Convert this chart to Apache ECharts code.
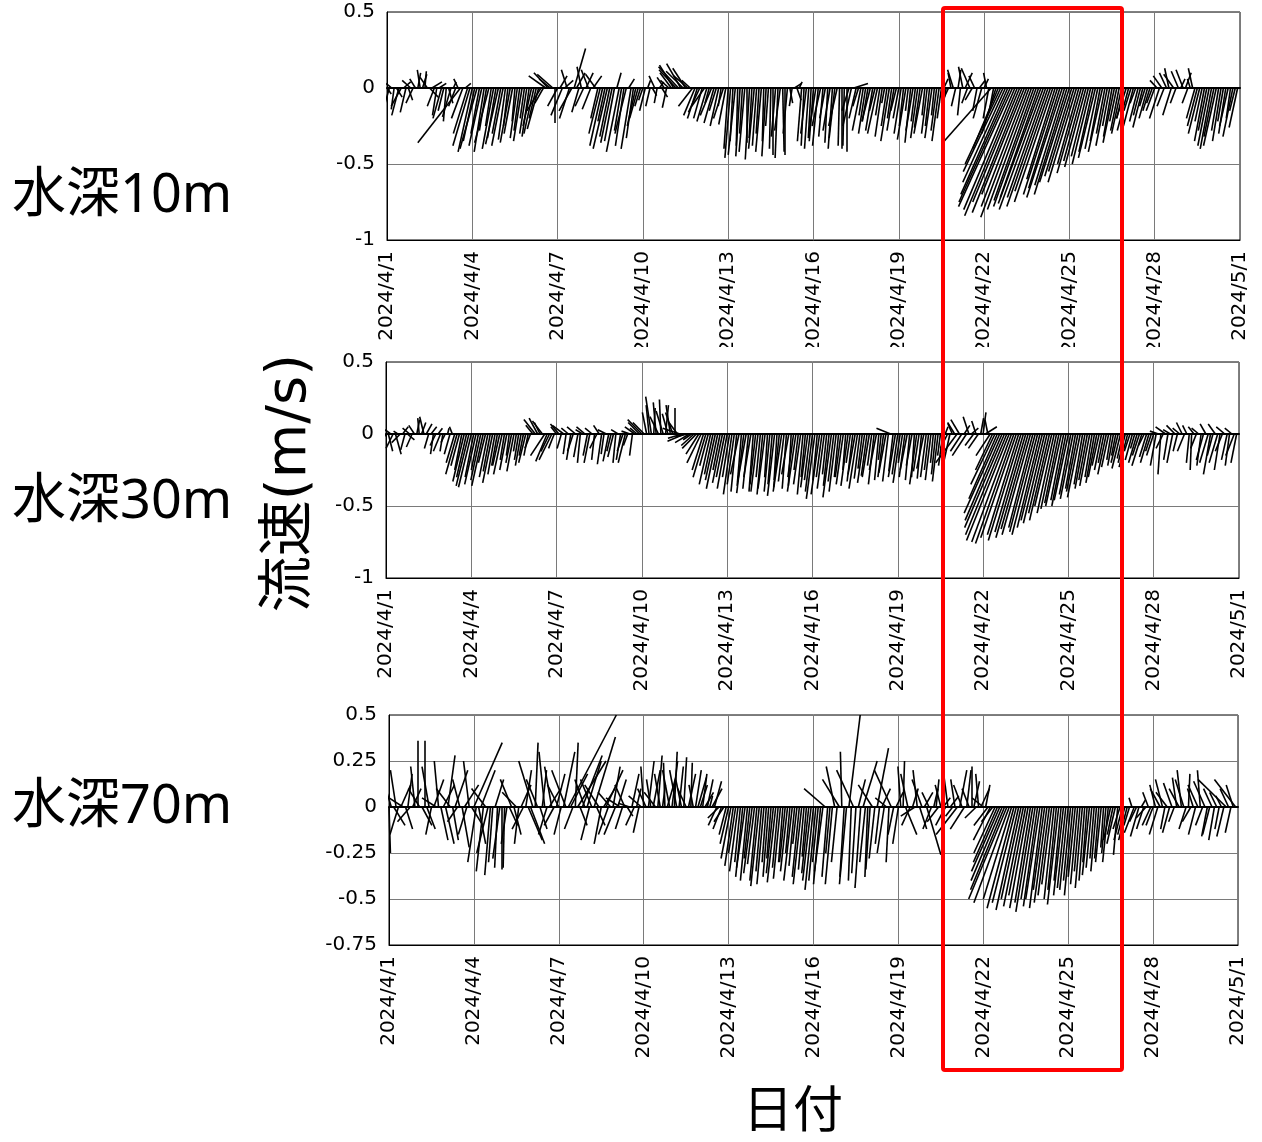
<!DOCTYPE html>
<html>
<head>
<meta charset="utf-8">
<script src="https://cdn.jsdelivr.net/npm/echarts@6/dist/echarts.min.js"></script>
<style>
  html, body { margin: 0; padding: 0; background: #fff; }
  #main { width: 1262px; height: 1142px; }
</style>
</head>
<body>
<div id="main"></div>
<script>
// tick labels on the date axis (every 3 days, 4/1 .. 5/1)
var dateLabels = ['2024/4/1', '2024/4/4', '2024/4/7', '2024/4/10', '2024/4/13', '2024/4/16',
  '2024/4/19', '2024/4/22', '2024/4/25', '2024/4/28', '2024/5/1'];
var stepDays = 2 / 24;   // one stick every 2 hours from 2024/4/1 00:00
var daysPerMs = 5;       // horizontal length of 1 m/s on the date axis

/* 10m : east (u) and north (v) components, m/s, one row per day */
var u10 = [
  0.03, -0.03, -0.04, -0.02, 0.04, -0.05, -0.07, 0.05, -0.04, 0.03, -0.06, -0.05,
  -0.04, 0.02, -0.02, 0.03, 0.01, -0.05, 0.06, 0.07, -0.05, -0.03, 0.05, -0.06,
  -0.04, -0.02, 0.03, -0.06, 0.02, -0.05, -0.03, -0.3, -0.08, 0.04, -0.1, -0.12,
  -0.1, -0.08, -0.12, -0.06, -0.09, -0.07, -0.05, -0.1, -0.04, -0.08, -0.06, -0.09,
  -0.06, -0.08, -0.05, -0.03, -0.07, -0.06, -0.02, -0.05, -0.04, -0.06, -0.03, -0.05,
  -0.05, -0.06, -0.07, -0.05, -0.08, -0.1, -0.06, -0.12, -0.1, -0.08, -0.11, 0,
  -0.07, 0.05, -0.08, 0.06, -0.04, -0.07, -0.09, 0.08, 0.06, -0.05, -0.03, -0.06,
  0.05, -0.05, -0.06, 0.06, -0.07, -0.05, -0.08, -0.09, -0.05, -0.1, -0.07, -0.08,
  -0.07, 0.03, -0.09, -0.05, -0.06, -0.08, 0.04, -0.07, -0.05, -0.06, -0.06, -0.04,
  -0.03, -0.04, 0.02, -0.03, 0.03, -0.04, -0.02, 0.03, 0.04, -0.05, -0.03, -0.06,
  -0.08, -0.1, -0.12, -0.14, -0.1, -0.12, -0.09, -0.1, -0.06, -0.1, -0.08, -0.07,
  -0.08, -0.06, -0.09, -0.07, -0.03, -0.08, -0.07, -0.05, -0.06, -0.02, -0.07, -0.05,
  -0.03, -0.04, -0.02, -0.05, -0.01, -0.03, -0.02, -0.04, 0, -0.03, -0.02, -0.04,
  -0.03, -0.02, -0.04, -0.01, -0.03, -0.02, -0.01, 0, -0.03, -0.02, -0.04, 0.01,
  0, -0.03, 0.02, -0.02, 0.05, 0.03, 0.02, -0.03, -0.02, -0.04, -0.03, -0.02,
  -0.03, -0.05, -0.04, -0.06, -0.03, -0.04, -0.02, -0.05, -0.03, -0.04, -0.06, -0.01,
  0, -0.01, 0, -0.05, -0.06, 0.1, -0.05, -0.04, -0.06, -0.03, -0.05, -0.04,
  -0.06, -0.05, -0.04, -0.07, -0.03, -0.05, -0.02, -0.04, -0.06, -0.03, -0.05, -0.04,
  -0.04, -0.05, -0.03, -0.06, -0.02, -0.04, -0.05, -0.03, -0.05, -0.04, -0.06, -0.02,
  -0.04, -0.03, -0.05, -0.02, -0.04, -0.05, -0.03, 0.03, -0.03, -0.05, -0.02, -0.04,
  -0.03, 0.02, -0.02, -0.03, 0.05, -0.04, -0.06, -0.05, -0.04, -0.03, 0.04, -0.06,
  0.03, -0.02, -0.04, -0.35, -0.03, -0.1, -0.18, -0.25, -0.28, -0.3, -0.33, -0.36,
  -0.38, -0.36, -0.37, -0.33, -0.35, -0.3, -0.32, -0.34, -0.31, -0.28, -0.3, -0.27,
  -0.3, -0.31, -0.27, -0.29, -0.25, -0.27, -0.2, -0.24, -0.22, -0.25, -0.21, -0.23,
  -0.21, -0.19, -0.18, -0.2, -0.15, -0.17, -0.14, -0.15, -0.12, -0.13, -0.1, -0.12,
  -0.09, -0.07, -0.1, -0.06, -0.08, -0.05, -0.06, -0.08, -0.05, -0.06, -0.07, -0.05,
  -0.07, -0.08, -0.05, -0.07, -0.04, -0.06, -0.05, -0.07, -0.04, -0.06, -0.05, -0.04,
  -0.06, -0.05, -0.07, -0.06, -0.05, -0.05, -0.03, -0.06, -0.07, -0.04, -0.05, 0.03,
  -0.05, 0.04, -0.04, -0.02, -0.03, -0.06, -0.07, -0.08, -0.05, -0.07, -0.06, -0.08,
  -0.08, -0.07, -0.09, -0.05, -0.06, -0.04, -0.05, -0.06, -0.03, -0.07, -0.04, -0.06
];
var v10 = [
  -0.04, -0.1, 0.03, -0.14, -0.06, -0.18, -0.12, 0.04, -0.16, -0.08, 0.05, -0.1,
  0.06, 0.1, 0.12, 0.09, 0.11, 0.07, -0.06, 0.04, -0.12, -0.18, 0.03, -0.2,
  -0.15, -0.22, -0.1, -0.19, 0.04, -0.12, 0.06, -0.36, -0.2, 0.03, -0.3, -0.38,
  -0.42, -0.35, -0.4, -0.3, -0.38, -0.42, -0.28, -0.36, -0.25, -0.4, -0.33, -0.37,
  -0.3, -0.38, -0.34, -0.25, -0.36, -0.3, -0.22, -0.33, -0.28, -0.35, -0.2, -0.3,
  -0.32, -0.25, -0.3, -0.2, -0.27, -0.15, -0.1, 0.08, 0.1, 0.06, 0.09, -0.23,
  -0.12, 0.08, -0.18, 0.05, 0.12, -0.2, -0.15, 0.26, 0.1, -0.16, 0.14, -0.12,
  0.1, 0.12, -0.14, 0.08, 0.09, -0.2, -0.3, -0.38, -0.22, -0.4, -0.32, -0.36,
  -0.35, 0.1, -0.42, -0.28, -0.38, -0.3, 0.06, -0.4, -0.33, -0.25, -0.2, -0.12,
  -0.08, -0.15, 0.05, -0.12, -0.05, 0.08, -0.1, 0.04, -0.06, 0.07, -0.13, 0.05,
  0.1, 0.15, 0.12, 0.14, 0.16, 0.11, 0.13, 0.08, 0.05, -0.12, -0.18, -0.2,
  -0.16, -0.2, -0.12, -0.22, -0.1, -0.18, -0.23, -0.15, -0.25, -0.12, -0.2, -0.24,
  -0.4, -0.46, -0.35, -0.44, -0.38, -0.45, -0.3, -0.42, -0.36, -0.47, -0.33, -0.4,
  -0.38, -0.3, -0.42, -0.35, -0.45, -0.25, -0.4, -0.44, -0.32, -0.46, -0.28, -0.42,
  -0.44, -0.3, -0.1, -0.12, 0.03, -0.08, 0.04, -0.35, -0.38, -0.3, -0.4, -0.33,
  -0.35, -0.3, -0.38, -0.25, -0.32, -0.2, -0.36, -0.28, -0.4, -0.33, -0.25, -0.38,
  -0.4, -0.38, -0.42, -0.15, -0.25, 0.03, -0.2, -0.12, -0.28, -0.18, -0.3, -0.22,
  -0.22, -0.28, -0.15, -0.3, -0.18, -0.32, -0.1, -0.25, -0.35, -0.2, -0.28, -0.15,
  -0.2, -0.3, -0.25, -0.34, -0.15, -0.36, -0.28, -0.22, -0.33, -0.26, -0.3, -0.18,
  -0.3, -0.25, -0.33, -0.18, -0.28, -0.35, -0.2, 0.06, -0.15, -0.1, 0.1, 0.12,
  -0.12, 0.12, -0.18, 0.14, 0.1, -0.1, 0.13, -0.08, 0.08, -0.15, 0.05, -0.2,
  0.06, 0.1, -0.2, -0.37, -0.15, -0.3, -0.4, -0.5, -0.55, -0.62, -0.7, -0.75,
  -0.78, -0.8, -0.84, -0.75, -0.82, -0.7, -0.78, -0.85, -0.8, -0.74, -0.78, -0.72,
  -0.76, -0.8, -0.72, -0.78, -0.68, -0.75, -0.6, -0.7, -0.66, -0.72, -0.64, -0.7,
  -0.62, -0.58, -0.55, -0.62, -0.5, -0.56, -0.48, -0.52, -0.45, -0.5, -0.42, -0.46,
  -0.4, -0.35, -0.42, -0.3, -0.38, -0.25, -0.32, -0.36, -0.22, -0.28, -0.3, -0.2,
  -0.2, -0.28, -0.15, -0.25, -0.1, -0.22, -0.18, -0.26, -0.12, -0.2, -0.15, -0.1,
  -0.15, 0.05, -0.2, 0.08, -0.12, 0.1, 0.13, -0.18, 0.09, -0.1, 0.11, 0.06,
  0.12, 0.1, -0.1, 0.06, 0.13, -0.2, -0.25, -0.3, -0.22, -0.35, -0.28, -0.38,
  -0.4, -0.32, -0.38, -0.28, -0.35, -0.22, -0.3, -0.25, -0.2, -0.32, -0.15, -0.26
];

/* 30m */
var u30 = [
  -0.05, 0.03, -0.04, -0.05, 0.04, -0.03, -0.06, 0.04, -0.03, 0.05, -0.05, -0.04,
  -0.04, 0.02, -0.01, 0.03, -0.03, 0.04, -0.03, 0.04, -0.02, -0.04, 0.03, -0.05,
  -0.02, -0.03, 0.01, -0.04, -0.02, -0.06, -0.08, -0.06, -0.05, -0.08, -0.07, -0.09,
  -0.09, -0.06, -0.08, -0.05, -0.07, -0.08, -0.05, -0.06, -0.05, -0.07, -0.05, -0.04,
  -0.05, -0.06, -0.03, -0.05, -0.02, -0.04, -0.05, -0.02, -0.03, -0.04, -0.03, -0.05,
  -0.03, -0.04, -0.05, -0.08, -0.06, -0.04, -0.07, -0.1, -0.08, -0.06, -0.09, -0.04,
  -0.04, -0.06, -0.03, -0.08, -0.02, -0.05, -0.03, -0.04, -0.06, -0.03, -0.02, -0.05,
  -0.06, -0.03, -0.04, -0.05, -0.02, -0.05, -0.04, -0.03, -0.02, -0.06, -0.04, -0.03,
  -0.04, -0.02, -0.05, -0.03, -0.04, -0.05, -0.03, -0.06, -0.02, -0.07, -0.05, -0.08,
  -0.1, -0.08, -0.03, -0.02, -0.04, 0.01, -0.02, -0.06, -0.01, -0.05, 0.02, -0.04,
  -0.03, -0.05, 0, -0.06, -0.12, -0.1, -0.12, -0.08, -0.1, -0.06, -0.09, -0.1,
  -0.09, -0.1, -0.08, -0.09, -0.06, -0.08, -0.06, -0.07, -0.08, -0.05, -0.07, -0.06,
  -0.07, -0.05, -0.06, -0.05, -0.04, -0.06, -0.03, -0.05, -0.06, -0.04, -0.05, -0.03,
  -0.04, -0.05, -0.03, -0.04, -0.05, -0.02, -0.04, -0.03, -0.05, -0.02, -0.04, -0.06,
  -0.04, -0.03, -0.05, -0.02, -0.04, -0.06, -0.03, -0.05, -0.04, -0.03, -0.05, -0.04,
  -0.05, -0.06, -0.03, -0.06, -0.04, -0.05, -0.03, -0.04, -0.06, -0.04, -0.05, -0.03,
  -0.04, -0.05, -0.02, -0.05, -0.03, -0.04, -0.05, -0.06, -0.04, -0.03, -0.05, -0.04,
  -0.05, -0.03, -0.04, -0.05, -0.03, -0.02, -0.04, -0.05, -0.04, -0.1, -0.03, -0.05,
  -0.04, -0.05, -0.03, -0.04, -0.05, -0.03, -0.04, -0.02, -0.05, -0.04, -0.03, -0.05,
  -0.04, -0.03, -0.04, -0.02, -0.03, -0.04, -0.02, -0.03, 0.02, -0.05, -0.04, -0.03,
  -0.05, -0.15, -0.06, -0.08, 0.04, -0.1, -0.04, 0.05, -0.06, -0.03, -0.07, 0.02,
  0.02, 0.08, -0.02, -0.1, -0.12, -0.17, -0.2, -0.25, -0.26, -0.28, -0.29, -0.3,
  -0.28, -0.27, -0.25, -0.22, -0.23, -0.2, -0.21, -0.19, -0.2, -0.17, -0.18, -0.18,
  -0.16, -0.15, -0.15, -0.13, -0.14, -0.12, -0.12, -0.11, -0.1, -0.11, -0.09, -0.1,
  -0.1, -0.08, -0.09, -0.07, -0.08, -0.09, -0.06, -0.07, -0.06, -0.07, -0.05, -0.06,
  -0.06, -0.05, -0.05, -0.04, -0.06, -0.05, -0.03, -0.04, -0.03, -0.05, -0.06, -0.04,
  -0.05, -0.06, -0.04, -0.05, -0.03, -0.06, -0.05, -0.07, -0.04, -0.05, -0.06, -0.04,
  -0.05, -0.04, -0.06, -0.02, -0.05, -0.07, -0.03, -0.05, -0.04, -0.06, -0.03, -0.05,
  -0.04, -0.05, -0.03, -0.02, -0.01, -0.04, -0.04, -0.05, -0.03, -0.05, -0.04, -0.06,
  -0.05, -0.04, -0.05, -0.06, -0.04, -0.05, -0.06, -0.04, -0.03, -0.05, -0.06, -0.04
];
var v30 = [
  -0.08, -0.12, 0.03, -0.1, -0.14, 0.02, -0.06, 0.05, -0.11, -0.04, 0.04, -0.09,
  0.06, 0.1, 0.11, 0.08, 0.12, 0.07, -0.1, 0.05, -0.14, -0.08, 0.04, -0.12,
  -0.12, -0.06, 0.04, -0.14, 0.05, -0.2, -0.28, -0.22, -0.25, -0.33, -0.3, -0.36,
  -0.37, -0.3, -0.35, -0.25, -0.32, -0.36, -0.2, -0.3, -0.26, -0.34, -0.28, -0.22,
  -0.22, -0.28, -0.18, -0.25, -0.15, -0.2, -0.26, -0.12, -0.18, -0.22, -0.15, -0.2,
  -0.15, -0.1, 0.06, 0.1, 0.11, 0.08, 0.09, -0.15, -0.19, -0.12, -0.18, -0.1,
  0.05, 0.07, -0.1, 0.06, -0.14, 0.04, -0.18, -0.12, 0.05, -0.16, -0.2, 0.03,
  0.05, -0.15, -0.2, 0.04, -0.18, -0.1, 0.06, -0.21, -0.14, 0.03, -0.19, -0.12,
  -0.16, -0.2, 0.03, -0.18, -0.12, -0.2, -0.08, 0.02, -0.15, 0.05, 0.04, 0.08,
  0.1, 0.08, 0.15, 0.2, 0.26, 0.18, 0.22, 0.12, 0.24, 0.16, 0.2, 0.14,
  0.2, 0.15, 0.18, 0.08, 0.04, -0.03, -0.05, -0.02, -0.06, -0.04, -0.08, -0.1,
  -0.14, -0.2, -0.25, -0.3, -0.22, -0.35, -0.28, -0.32, -0.38, -0.25, -0.34, -0.3,
  -0.38, -0.3, -0.42, -0.35, -0.4, -0.28, -0.36, -0.41, -0.33, -0.38, -0.3, -0.4,
  -0.35, -0.4, -0.3, -0.42, -0.38, -0.3, -0.4, -0.35, -0.43, -0.32, -0.37, -0.4,
  -0.33, -0.38, -0.28, -0.36, -0.3, -0.4, -0.25, -0.35, -0.42, -0.3, -0.37, -0.32,
  -0.4, -0.45, -0.32, -0.42, -0.3, -0.38, -0.28, -0.36, -0.44, -0.33, -0.4, -0.3,
  -0.3, -0.35, -0.25, -0.36, -0.2, -0.33, -0.28, -0.38, -0.31, -0.24, -0.34, -0.29,
  -0.3, -0.22, -0.35, -0.25, -0.32, -0.18, -0.3, -0.27, -0.33, 0.04, -0.26, -0.3,
  -0.28, -0.34, -0.2, -0.3, -0.25, -0.32, -0.22, -0.3, -0.35, -0.26, -0.31, -0.24,
  -0.3, -0.25, -0.32, -0.2, -0.28, -0.33, -0.15, -0.22, 0.05, -0.1, -0.18, 0.07,
  0.08, -0.2, 0.1, -0.12, 0.06, -0.15, 0.12, 0.04, -0.08, 0.09, -0.1, 0.11,
  0.15, 0.05, 0.1, -0.15, -0.25, -0.35, -0.45, -0.55, -0.6, -0.65, -0.7, -0.74,
  -0.75, -0.76, -0.72, -0.7, -0.74, -0.68, -0.72, -0.66, -0.7, -0.65, -0.68, -0.7,
  -0.65, -0.6, -0.62, -0.55, -0.6, -0.5, -0.55, -0.52, -0.48, -0.5, -0.46, -0.5,
  -0.46, -0.42, -0.45, -0.38, -0.4, -0.44, -0.35, -0.38, -0.32, -0.36, -0.3, -0.34,
  -0.3, -0.22, -0.25, -0.2, -0.28, -0.23, -0.18, -0.22, -0.15, -0.2, -0.24, -0.17,
  -0.2, -0.23, -0.12, -0.18, -0.1, -0.2, -0.15, -0.22, -0.08, -0.16, -0.2, -0.12,
  -0.15, -0.22, 0.02, -0.28, -0.1, 0.05, -0.18, 0.03, -0.2, 0.06, -0.12, 0.04,
  0.08, -0.12, 0.06, -0.2, -0.25, 0.05, -0.1, 0.04, -0.22, -0.18, 0.07, -0.2,
  -0.28, -0.15, 0.07, -0.2, -0.25, -0.12, 0.05, -0.18, -0.22, 0.04, -0.15, -0.2
];

/* 70m */
var u70 = [
  0.01, -0.06, 0.08, -0.04, -0.06, 0.07, -0.1, 0.05, 0.03, -0.09, 0.06, -0.03,
  0, -0.08, 0.07, 0, 0.06, -0.05, -0.04, 0.07, -0.1, -0.03, 0.05, 0.08,
  0.06, 0.05, -0.1, 0.04, 0.09, -0.07, -0.05, 0.05, 0.1, -0.06, -0.04, 0.08,
  0.2, -0.06, 0.05, 0.1, -0.05, -0.1, -0.08, -0.04, -0.03, 0.06, -0.02, -0.05,
  0, -0.01, -0.04, 0.06, -0.08, 0.05, -0.1, -0.03, 0.07, -0.08, 0.04, 0.1,
  0.1, -0.1, 0.02, -0.08, 0.05, 0.03, -0.04, -0.06, 0.08, -0.05, -0.07, 0.06,
  -0.08, -0.05, 0.08, -0.1, 0.34, 0.12, -0.06, 0.02, 0.2, 0.05, 0.14, -0.07,
  0.1, -0.06, -0.08, 0.15, 0.06, -0.1, -0.05, 0.08, 0.12, -0.07, -0.09, 0.05,
  -0.08, 0.06, -0.1, -0.05, -0.07, 0.04, -0.08, 0.05, -0.06, 0.03, -0.04, -0.09,
  -0.02, -0.06, 0.04, -0.03, 0.05, -0.08, 0.03, -0.04, 0.02, -0.01, 0.06, -0.05,
  0.04, 0.02, -0.05, 0.03, -0.04, 0.02, -0.06, 0.05, 0.01, -0.03, 0.04, 0.06,
  0.05, 0.03, 0.06, 0.04, 0.02, 0.07, 0.05, -0.06, -0.08, -0.06, -0.07, -0.05,
  -0.06, -0.07, -0.06, -0.05, -0.06, -0.04, -0.05, -0.06, -0.05, -0.04, -0.06, -0.05,
  -0.05, -0.06, -0.04, -0.05, -0.03, -0.04, -0.03, -0.05, -0.06, -0.04, -0.05, -0.03,
  -0.04, -0.05, -0.03, -0.06, -0.04, -0.03, -0.05, -0.06, -0.04, -0.03, -0.05, -0.06,
  -0.06, -0.05, -0.04, -0.05, -0.06, -0.15, -0.04, -0.03, -0.05, -0.06, -0.04, -0.12,
  -0.01, -0.03, -0.05, 0.08, -0.02, -0.12, -0.03, 0.05, -0.04, 0.1, -0.04, -0.02,
  -0.03, -0.1, -0.04, 0.08, -0.03, 0.06, -0.05, -0.08, -0.02, -0.12, -0.04, 0.05,
  -0.04, -0.02, 0.01, 0.08, -0.05, -0.06, 0.04, -0.1, -0.03, 0.05, -0.07, 0.06,
  0.1, -0.05, -0.06, 0.03, 0.02, -0.08, -0.04, 0.05, -0.07, -0.03, 0.06, -0.05,
  -0.03, -0.15, 0.05, -0.06, -0.1, 0.03, -0.05, 0, 0.04, -0.08, -0.02, 0.06,
  -0.08, 0.03, -0.1, -0.12, -0.08, -0.15, -0.17, -0.2, -0.22, -0.24, -0.27, -0.25,
  -0.2, -0.19, -0.17, -0.16, -0.14, -0.14, -0.12, -0.13, -0.11, -0.12, -0.1, -0.1,
  -0.1, -0.09, -0.08, -0.09, -0.08, -0.07, -0.07, -0.06, -0.08, -0.05, -0.07, -0.06,
  -0.06, -0.05, -0.06, -0.05, -0.05, -0.04, -0.05, -0.04, -0.03, -0.05, -0.04, -0.03,
  -0.04, -0.03, -0.04, -0.02, -0.03, -0.04, -0.05, -0.04, -0.06, -0.03, -0.05, -0.06,
  -0.05, -0.06, -0.04, -0.02, -0.07, -0.05, -0.06, 0.03, -0.05, -0.07, -0.04, -0.06,
  -0.05, -0.04, -0.06, -0.07, -0.05, -0.03, -0.08, -0.05, -0.06, -0.04, -0.03, -0.07,
  -0.03, -0.06, -0.05, 0.01, -0.06, -0.04, -0.05, -0.07, -0.02, -0.05, -0.08, -0.04,
  -0.05, -0.06, -0.04, -0.05, -0.03, -0.04, -0.05, -0.2, -0.06, -0.04, -0.05, -0.15
];
var v70 = [
  -0.25, 0.15, -0.1, 0.2, -0.15, 0.12, 0.05, -0.12, 0.18, -0.08, 0.1, 0.22,
  0.36, 0.1, -0.1, 0.36, -0.12, 0.22, -0.15, 0.15, 0.05, 0.25, -0.18, 0.12,
  -0.2, 0.28, 0.1, -0.18, 0.2, -0.08, 0.15, -0.22, 0.12, -0.15, 0.25, -0.1,
  0.35, -0.3, -0.2, 0.2, -0.35, 0.1, -0.25, -0.37, -0.3, 0.15, -0.33, -0.28,
  -0.34, -0.33, -0.2, -0.1, 0.15, -0.15, 0.08, -0.2, 0.12, -0.12, 0.2, -0.18,
  -0.2, 0.25, 0.35, 0.15, -0.12, 0.2, 0.3, -0.15, 0.1, 0.22, -0.1, 0.18,
  0.12, -0.15, 0.3, 0.2, 0.5, 0.18, -0.12, 0.35, 0.25, -0.1, 0.28, 0.15,
  0.25, -0.18, 0.15, 0.38, -0.1, 0.12, -0.2, 0.1, 0.2, -0.15, 0.08, 0.22,
  -0.15, 0.15, 0.05, -0.12, 0.12, -0.05, 0.02, 0.18, -0.1, 0.1, -0.14, 0.06,
  0.22, 0.1, 0.25, 0.15, 0.2, 0.08, 0.28, 0.18, 0.12, 0.24, 0.16, 0.2,
  0.25, 0.3, 0.2, 0.22, 0.15, 0.27, 0.1, 0.18, 0.24, 0.12, 0.2, 0.16,
  0.12, 0.18, 0.08, 0.15, 0.06, 0.1, 0.14, -0.1, -0.06, -0.12, -0.08, -0.15,
  -0.2, -0.28, -0.32, -0.25, -0.35, -0.3, -0.38, -0.33, -0.4, -0.28, -0.36, -0.31,
  -0.4, -0.43, -0.35, -0.42, -0.3, -0.38, -0.28, -0.36, -0.41, -0.33, -0.39, -0.3,
  -0.3, -0.35, -0.25, -0.4, -0.32, -0.2, -0.38, -0.42, -0.34, -0.27, -0.36, -0.4,
  -0.45, -0.4, -0.3, -0.42, -0.35, 0.1, -0.38, -0.25, -0.42, 0.22, -0.3, 0.15,
  0.3, -0.38, -0.42, 0.5, -0.4, 0.2, -0.36, 0.15, -0.44, 0.25, -0.3, -0.38,
  -0.34, 0.12, -0.28, 0.32, -0.2, 0.1, -0.25, 0.05, -0.3, 0.2, -0.15, 0.08,
  -0.2, 0.22, 0.25, -0.15, 0.18, -0.1, 0.1, -0.05, 0.2, -0.12, 0.15, 0.08,
  -0.26, 0.08, -0.12, 0.1, 0.15, -0.08, 0.12, 0.05, -0.1, 0.18, 0.06, -0.05,
  0.15, -0.15, 0.2, 0.12, -0.12, 0.2, 0.1, 0.22, 0.14, -0.06, 0.18, 0.1,
  0.05, 0.12, -0.1, -0.18, -0.08, -0.25, -0.3, -0.35, -0.4, -0.45, -0.5, -0.52,
  -0.5, -0.55, -0.52, -0.56, -0.5, -0.54, -0.48, -0.55, -0.52, -0.57, -0.5, -0.54,
  -0.5, -0.55, -0.45, -0.52, -0.48, -0.42, -0.5, -0.45, -0.53, -0.4, -0.48, -0.44,
  -0.45, -0.4, -0.48, -0.38, -0.42, -0.35, -0.44, -0.4, -0.3, -0.37, -0.33, -0.28,
  -0.35, -0.28, -0.3, -0.22, -0.25, -0.3, -0.18, -0.15, -0.2, -0.26, -0.12, -0.18,
  -0.15, -0.18, -0.1, 0.05, -0.14, -0.08, -0.16, 0.04, -0.12, -0.06, 0.08, -0.1,
  -0.1, 0.12, -0.15, 0.1, 0.15, -0.12, 0.08, -0.14, 0.13, -0.08, 0.16, 0.1,
  0.2, 0.15, -0.12, 0.18, -0.08, 0.1, -0.15, 0.12, 0.2, -0.1, 0.14, -0.16,
  -0.15, 0.1, -0.18, 0.08, -0.12, 0.06, -0.16, 0.15, 0.1, -0.14, 0.12, 0.15
];

var depthLabels = ['水深10m', '水深30m', '水深70m'];

function sticks(u, v) {
  return u.map(function (du, i) {
    var t = i * stepDays;
    return { coords: [[t, 0], [t + du * daysPerMs, v[i]]] };
  });
}

var latin = '"Noto Sans", "Noto Sans CJK JP", sans-serif';
var tickFont = '"DejaVu Sans", sans-serif';
var grids = [
  { left: 387, top: 12, width: 853, height: 228 },
  { left: 386, top: 362, width: 853, height: 216 },
  { left: 389, top: 715, width: 849, height: 230 }
];
var yRanges = [
  { min: -1, max: 0.5, interval: 0.5 },
  { min: -1, max: 0.5, interval: 0.5 },
  { min: -0.75, max: 0.5, interval: 0.25 }
];
var series = [sticks(u10, v10), sticks(u30, v30), sticks(u70, v70)];

var xAxes = [], yAxes = [];
grids.forEach(function (g, i) {
  g.show = true;
  g.borderColor = '#000';
  g.borderWidth = 1;
  xAxes.push({
    gridIndex: i, type: 'value', min: 0, max: 30, interval: 3,
    axisLine: { onZero: false, lineStyle: { color: '#000' } },
    axisTick: { show: false },
    splitLine: { lineStyle: { color: '#7a7a7a' } },
    axisLabel: {
      rotate: 90, margin: 11, fontSize: 20, color: '#000', fontFamily: tickFont,
      formatter: function (val) { return dateLabels[Math.round(val / 3)]; }
    }
  });
  yAxes.push({
    gridIndex: i, type: 'value',
    min: yRanges[i].min, max: yRanges[i].max, interval: yRanges[i].interval,
    axisLine: { show: true, lineStyle: { color: '#000' } },
    axisTick: { show: false },
    splitLine: { lineStyle: { color: '#7a7a7a' } },
    axisLabel: { margin: 12, fontSize: 20, color: '#000', fontFamily: tickFont }
  });
});
// zero baseline in each panel
grids.forEach(function (g, i) {
  xAxes.push({
    gridIndex: i, type: 'value', min: 0, max: 30,
    axisLine: { onZero: true, lineStyle: { color: '#000', width: 2 } },
    axisTick: { show: false }, axisLabel: { show: false }, splitLine: { show: false }
  });
});

var chart = echarts.init(document.getElementById('main'), null, { renderer: 'canvas' });
chart.setOption({
  animation: false,
  backgroundColor: '#fff',
  grid: grids,
  xAxis: xAxes,
  yAxis: yAxes,
  series: series.map(function (d, i) {
    return {
      type: 'lines', coordinateSystem: 'cartesian2d',
      xAxisIndex: i, yAxisIndex: i, clip: true,
      lineStyle: { color: '#000', width: 1.6, opacity: 1 },
      data: d
    };
  }),
  graphic: [
    // cut the lower ends of the top panel's date labels
    { type: 'rect', z: 100, shape: { x: 376, y: 347, width: 880, height: 10 }, style: { fill: '#fff' } },
    { type: 'rect', z: 101, shape: { x: 943, y: 8, width: 179, height: 1062, r: 2 },
      style: { fill: 'none', stroke: '#ff0000', lineWidth: 4 } },
    { type: 'text', z: 101, x: 12, y: 197, style: { text: depthLabels[0], fontSize: 54, fontFamily: latin, fill: '#000', textVerticalAlign: 'middle' } },
    { type: 'text', z: 101, x: 12, y: 503, style: { text: depthLabels[1], fontSize: 54, fontFamily: latin, fill: '#000', textVerticalAlign: 'middle' } },
    { type: 'text', z: 101, x: 12, y: 808, style: { text: depthLabels[2], fontSize: 54, fontFamily: latin, fill: '#000', textVerticalAlign: 'middle' } },
    { type: 'text', z: 101, x: 290, y: 483, rotation: Math.PI / 2,
      style: { text: '流速(m/s)', fontSize: 56, fontFamily: '"DejaVu Sans", "Noto Sans CJK JP", sans-serif', fill: '#000', textAlign: 'center', textVerticalAlign: 'middle' } },
    { type: 'text', z: 101, x: 793, y: 1113,
      style: { text: '日付', fontSize: 50, fontFamily: latin, fill: '#000', textAlign: 'center', textVerticalAlign: 'middle' } }
  ]
});
</script>
</body>
</html>
